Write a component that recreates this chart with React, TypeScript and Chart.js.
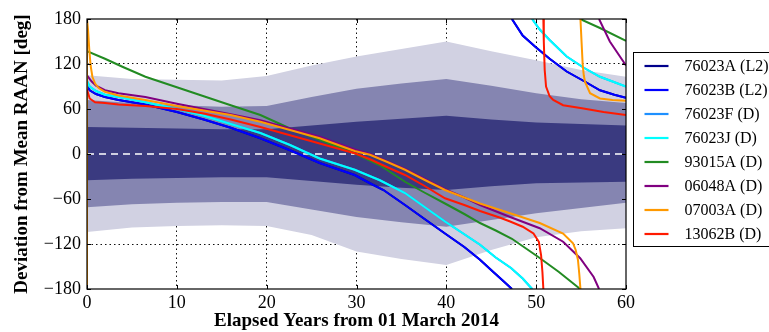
import React, { useEffect, useRef } from 'react';
import { Chart, registerables } from 'chart.js';

Chart.register(...registerables);

// ---------- Band data (deviation envelopes) ----------
const bandYears = [0, 5, 10, 15, 20, 25, 30, 35, 40, 45, 50, 55, 60];
const outerUpper = [105, 100, 99, 98, 104, 118, 130, 140, 150, 137, 125, 112, 103];
const outerLower = [-104, -98, -96, -95, -96, -108, -130, -140, -148, -128, -111, -103, -99];
const midUpper = [72, 68, 65, 63, 64, 76, 87, 94, 100, 91, 81, 73, 68];
const midLower = [-71, -67, -65, -64, -64, -74, -84, -91, -97, -88, -79, -72, -65];
const innerUpper = [36, 35, 34, 33, 33, 38, 43, 47, 51, 46, 42, 40, 38];
const innerLower = [-35, -33, -32, -31, -31, -36, -41, -45, -48, -43, -39, -38, -37];

const zeroYears = [0, 60];
const zeroValues = [0, 0];

// ---------- Object curves (null = wrap from -180 to +180) ----------
const yrs76023A = [0, 0.3, 1, 2, 3.5, 6.5, 10, 13, 16, 19.3, 22.6, 25.9, 29.8, 31.5, 33, 35.4, 37.5, 39.85, 42, 43.75, 45.2, 46.4, 47.3, 47.3, 47.3, 48.5, 49.9, 51.5, 53.4, 55.5, 57.1, 58.7, 60];
const dev76023A = [91, 85, 80, 76, 72, 66, 56, 46, 35, 21, 5, -12, -28, -39, -48, -68, -86, -106, -124, -141, -157, -170, -180, null, 180, 158, 143, 127, 110, 96, 85, 79, 75];

const yrs76023B = [0, 0.3, 1, 2, 3.5, 6.5, 10, 13, 16, 19.3, 22.6, 25.9, 29.8, 31.5, 33, 35.4, 37.5, 39.85, 42, 43.75, 45.2, 46.4, 47.3, 47.3, 47.3, 48.5, 49.9, 51.5, 53.4, 55.5, 57.1, 58.7, 60];
const dev76023B = [91, 85, 80, 76, 72, 66, 56, 46, 35, 21, 5, -12, -28, -39, -48, -68, -86, -106, -124, -141, -157, -170, -180, null, 180, 158, 143, 127, 110, 96, 85, 79, 75];

const yrs76023F = [0, 0.3, 1, 2, 3.5, 6.5, 10, 13, 16, 19.3, 22.6, 25.9, 29.8, 32.6, 35.4, 37.5, 39.85, 42, 43.75, 45.5, 47.2, 48.5, 49.55, 49.55, 49.55, 50.4, 51.5, 53.4, 55.3, 57.1, 60];
const dev76023F = [97, 90, 84, 79, 76, 69, 60, 51, 40, 28, 12, -6, -21, -35, -52, -70, -90, -107, -121, -138, -152, -166, -180, null, 180, 166, 152, 130, 115, 103, 90];

const yrs76023J = [0, 0.3, 1, 2, 3.5, 6.5, 10, 13, 16, 19.3, 22.6, 25.9, 29.8, 32.6, 35.4, 37.5, 39.85, 42, 43.75, 45.5, 47.2, 48.5, 49.55, 49.55, 49.55, 50.4, 51.5, 53.4, 55.3, 57.1, 60];
const dev76023J = [97, 90, 84, 79, 76, 69, 60, 51, 40, 28, 12, -6, -21, -35, -52, -70, -90, -107, -121, -138, -152, -166, -180, null, 180, 166, 152, 130, 115, 103, 90];

const yrs93015A = [0, 2, 4, 6.5, 10, 13, 16, 19.3, 22.6, 25.9, 29.8, 32.6, 35.4, 37.5, 39.85, 42, 43.75, 45.5, 47.3, 50.2, 52.5, 54.9, 54.9, 54.9, 57.1, 60];
const dev93015A = [137, 127, 116, 103, 89, 77, 65, 52, 34, 19, 1, -15, -37, -51, -66, -80, -92, -102, -113, -137, -157, -180, null, 180, 168, 151];

const yrs06048A = [0, 0.5, 1, 2, 3.5, 6.5, 10, 13, 16, 19.3, 22.6, 25.9, 29.8, 31.5, 35.4, 39.85, 42, 43.75, 47.1, 50.4, 53, 54.9, 56.4, 57, 57, 57, 58.2, 60];
const dev06048A = [105, 97, 91, 85, 81, 76, 67, 60, 53, 45, 34, 23, 6, 0, -20, -47, -58, -68, -84, -99, -117, -139, -164, -180, null, 180, 150, 118];

const yrs07003A = [0, 0, 0.12, 0.25, 0.4, 0.6, 0.9, 1.3, 2, 3.5, 6.5, 10, 13, 16, 19.3, 22.6, 25.9, 29.8, 31.5, 33.5, 35.4, 37.5, 39.85, 42, 43.75, 47.1, 50.4, 53, 54.1, 54.4, 54.65, 54.8, 54.93, 54.93, 54.93, 55.05, 55.18, 55.3, 55.44, 56, 57.1, 58.5, 60];
const dev07003A = [-180, 180, 165, 140, 118, 103, 94, 88, 83, 78, 72, 64, 58, 52, 43, 32, 21, 4, -1, -11, -21, -34, -48, -58, -66, -79, -92, -106, -119, -128, -141, -160, -180, null, 180, 150, 119, 105, 96, 81, 74, 72, 71];

const yrs13062B = [0, 0.3, 0.9, 2, 3.5, 6.5, 10, 13, 16, 19.3, 22.6, 25.9, 29.8, 31.5, 33.5, 35.4, 37.5, 39.85, 42, 43.75, 46, 47.1, 48.5, 49.7, 50.3, 50.55, 50.7, 50.8, 50.8, 50.8, 50.85, 50.95, 51.1, 51.5, 51.9, 53, 55.1, 57.5, 60];
const dev13062B = [86, 74, 69, 68, 66, 64, 60, 54, 46, 36, 25, 14, 1, -7, -18, -28, -42, -59, -68, -76, -85, -90, -97, -106, -117, -135, -158, -180, null, 180, 150, 112, 90, 77, 72, 65, 61, 56, 52];

const seriesLabels = ['76023A (L2)', '76023B (L2)', '76023F (D)', '76023J (D)', '93015A (D)', '06048A (D)', '07003A (D)', '13062B (D)'];
const seriesColors = ['#00008b', '#0000ff', '#1e90ff', '#00ffff', '#228b22', '#800080', '#ff9900', '#ff1a00'];
const seriesYears = [yrs76023A, yrs76023B, yrs76023F, yrs76023J, yrs93015A, yrs06048A, yrs07003A, yrs13062B];
const seriesDev = [dev76023A, dev76023B, dev76023F, dev76023J, dev93015A, dev06048A, dev07003A, dev13062B];

const xTicks = [0, 10, 20, 30, 40, 50, 60];
const yTicks = [-180, -120, -60, 0, 60, 120, 180];

const FONT = "'Liberation Serif', 'Times New Roman', serif";

const zip = (xs: number[], ys: (number | null)[]) => xs.map((x, i) => ({ x, y: ys[i] }));

const framePlugin = {
  id: 'frameAndLegend',
  afterDraw(chart: any) {
    const { ctx, chartArea } = chart;
    const { left, right, top, bottom } = chartArea;
    ctx.save();
    // frame
    ctx.strokeStyle = '#000';
    ctx.lineWidth = 1.2;
    ctx.strokeRect(left, top, right - left, bottom - top);
    // inward tick marks
    const xs = chart.scales.x;
    const ys = chart.scales.y;
    ctx.lineWidth = 1;
    ctx.beginPath();
    xs.ticks.forEach((t: any) => {
      const px = Math.round(xs.getPixelForValue(t.value)) + 0.5;
      ctx.moveTo(px, bottom);
      ctx.lineTo(px, bottom - 4);
      ctx.moveTo(px, top);
      ctx.lineTo(px, top + 4);
    });
    ys.ticks.forEach((t: any) => {
      const py = Math.round(ys.getPixelForValue(t.value)) + 0.5;
      ctx.moveTo(left, py);
      ctx.lineTo(left + 4, py);
      ctx.moveTo(right, py);
      ctx.lineTo(right - 4, py);
    });
    ctx.stroke();

    // legend box
    const boxLeft = right + 7.5;
    const boxTop = 52.5;
    const rowH = 24;
    const n = seriesLabels.length;
    ctx.fillStyle = '#fff';
    ctx.fillRect(boxLeft, boxTop, 200, n * rowH + 2);
    ctx.strokeStyle = '#000';
    ctx.lineWidth = 1;
    ctx.strokeRect(boxLeft, boxTop, 200, n * rowH + 2);
    ctx.font = `16px ${FONT}`;
    ctx.textBaseline = 'middle';
    ctx.textAlign = 'left';
    seriesLabels.forEach((lab, i) => {
      const cy = boxTop + 13.5 + i * rowH;
      ctx.strokeStyle = seriesColors[i];
      ctx.lineWidth = 2.2;
      ctx.beginPath();
      ctx.moveTo(boxLeft + 11, cy);
      ctx.lineTo(boxLeft + 35, cy);
      ctx.stroke();
      ctx.fillStyle = '#000';
      ctx.fillText(lab, boxLeft + 51, cy + 1);
    });
    ctx.restore();
  },
};

export default function App() {
  const ref = useRef<HTMLCanvasElement | null>(null);

  useEffect(() => {
    document.body.style.margin = '0';
    const bandStyle = {
      borderWidth: 0,
      borderColor: 'rgba(0,0,0,0)',
      pointRadius: 0,
      tension: 0,
    };
    const datasets: any[] = [
      { ...bandStyle, label: 'outerU', data: zip(bandYears, outerUpper), fill: '+1', backgroundColor: '#d1d1e2', order: 100 },
      { ...bandStyle, label: 'outerL', data: zip(bandYears, outerLower), fill: false, order: 100 },
      { ...bandStyle, label: 'midU', data: zip(bandYears, midUpper), fill: '+1', backgroundColor: '#8585b1', order: 90 },
      { ...bandStyle, label: 'midL', data: zip(bandYears, midLower), fill: false, order: 90 },
      { ...bandStyle, label: 'innerU', data: zip(bandYears, innerUpper), fill: '+1', backgroundColor: '#3a3a80', order: 80 },
      { ...bandStyle, label: 'innerL', data: zip(bandYears, innerLower), fill: false, order: 80 },
      {
        label: 'zero',
        data: zip(zeroYears, zeroValues),
        borderColor: '#ffffff',
        borderWidth: 1.5,
        borderDash: [7, 5],
        pointRadius: 0,
        fill: false,
        order: 50,
      },
    ];
    seriesLabels.forEach((lab, i) => {
      datasets.push({
        label: lab,
        data: zip(seriesYears[i], seriesDev[i]),
        borderColor: seriesColors[i],
        backgroundColor: seriesColors[i],
        borderWidth: 2,
        pointRadius: 0,
        tension: 0,
        spanGaps: false,
        fill: false,
        order: 20 - i,
      });
    });

    const chart = new Chart(ref.current as HTMLCanvasElement, {
      type: 'line',
      data: { datasets },
      options: {
        responsive: false,
        devicePixelRatio: 1,
        animation: false,
        parsing: false as any,
        layout: { padding: { top: 19, right: 143, bottom: 0, left: 0 } },
        plugins: {
          legend: { display: false },
          tooltip: { enabled: false },
        },
        scales: {
          x: {
            type: 'linear',
            min: 0,
            max: 60,
            z: 1,
            afterBuildTicks: (s: any) => {
              s.ticks = xTicks.map((v) => ({ value: v }));
            },
            afterFit: (s: any) => {
              s.height = 43;
            },
            ticks: {
              color: '#000',
              padding: 3,
              maxRotation: 0,
              font: { family: FONT, size: 18 },
            },
            grid: {
              drawTicks: false,
              color: (c: any) => (c.tick && (c.tick.value === 0 || c.tick.value === 60) ? 'rgba(0,0,0,0)' : '#111'),
              lineWidth: 1,
            },
            border: { display: false, dash: [1.5, 3] },
            title: {
              display: true,
              text: 'Elapsed Years from 01 March 2014',
              color: '#000',
              padding: { top: 0, bottom: 0 },
              font: { family: FONT, size: 19, weight: 'bold' },
            },
          },
          y: {
            type: 'linear',
            min: -180,
            max: 180,
            z: 1,
            afterBuildTicks: (s: any) => {
              s.ticks = yTicks.map((v) => ({ value: v }));
            },
            afterFit: (s: any) => {
              s.width = 87;
            },
            ticks: {
              color: '#000',
              padding: 6,
              font: { family: FONT, size: 18 },
              callback: (v: any) => (Number(v) < 0 ? '\u2212' + Math.abs(Number(v)) : String(v)),
            },
            grid: {
              drawTicks: false,
              color: (c: any) => (c.tick && Math.abs(c.tick.value) % 180 === 0 ? 'rgba(0,0,0,0)' : '#111'),
              lineWidth: 1,
            },
            border: { display: false, dash: [1.5, 3] },
            title: {
              display: true,
              text: 'Deviation from Mean RAAN [deg]',
              color: '#000',
              padding: { top: 11, bottom: 0 },
              font: { family: FONT, size: 19, weight: 'bold' },
            },
          },
        },
      },
      plugins: [framePlugin],
    } as any);
    return () => chart.destroy();
  }, []);

  return (
    <div style={{ width: 769, height: 332 }}>
      <canvas ref={ref} width={769} height={332} style={{ display: 'block', width: 769, height: 332 }} />
    </div>
  );
}
